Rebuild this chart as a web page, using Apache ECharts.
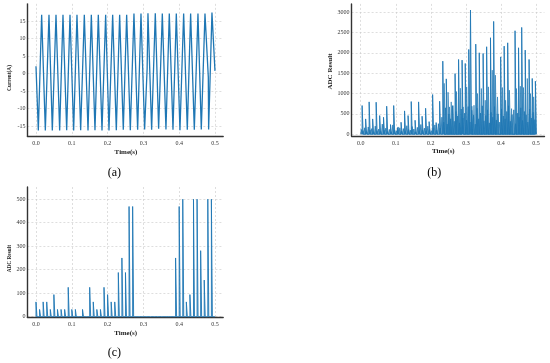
<!DOCTYPE html>
<html><head><meta charset="utf-8">
<script src="https://cdn.jsdelivr.net/npm/echarts@6/dist/echarts.min.js"></script>
<style>html,body{margin:0;padding:0;background:#fff}#c{width:550px;height:363px}</style>
</head><body><div id="c"></div>
<script>
// ---- (a) current waveform ----
const aTime = [0, 0.0065, 0.0158, 0.0261, 0.0363, 0.0456, 0.0559, 0.0661, 0.0754, 0.0857, 0.0950, 0.1052, 0.1145, 0.1248, 0.1350, 0.1453, 0.1546, 0.1648, 0.1741, 0.1844, 0.1946, 0.2039, 0.2142, 0.2244, 0.2337, 0.2439, 0.2533, 0.2635, 0.2737, 0.2840, 0.2933, 0.3035, 0.3105, 0.3128, 0.3231, 0.3333, 0.3426, 0.3529, 0.3631, 0.3724, 0.3827, 0.3920, 0.4022, 0.4125, 0.4227, 0.4320, 0.4423, 0.4525, 0.4618, 0.4721, 0.4814, 0.4823, 0.4916, 0.5];
const aCurrent = [2.1, -16.3, 16.9, -16.3, 16.9, -16.3, 16.9, -16.3, 16.9, -16.2, 16.9, -16.3, 16.9, -16.2, 16.9, -16.3, 16.9, -16.2, 16.9, -16.3, 16.9, -16.3, 16.9, -16.2, 16.9, -16.1, 16.9, -16.2, 17.2, -16.1, 17.2, -16.0, 1.5, 17.3, -16.1, 17.3, -15.8, 17.2, -16.0, 17.2, -16.1, 17.2, -16.2, 17.2, -16.1, 17.2, -16.1, 17.2, -16.0, 17.2, -1.0, -16.0, 17.5, 0.8];

// ---- (b) ADC result, spikes ----
const bMajorTime = [0.004, 0.014, 0.024, 0.034, 0.044, 0.054, 0.065, 0.074, 0.085, 0.094, 0.105, 0.115, 0.125, 0.135, 0.144, 0.155, 0.165, 0.175, 0.185, 0.195, 0.205, 0.215, 0.225, 0.234, 0.244, 0.269, 0.279, 0.289, 0.298, 0.308, 0.313, 0.328, 0.338, 0.349, 0.359, 0.370, 0.379, 0.399, 0.409, 0.419, 0.440, 0.450, 0.459, 0.469, 0.480, 0.489, 0.498];
const bMajorValue = [705, 377, 795, 377, 787, 459, 418, 689, 238, 705, 156, 295, 574, 459, 803, 344, 795, 443, 639, 311, 975, 287, 811, 1795, 1360, 1490, 1836, 1820, 1738, 2082, 3050, 2213, 2000, 1984, 2148, 2369, 2770, 1900, 2164, 2245, 2541, 2123, 2623, 2066, 1836, 1370, 1303];
const bMidTime = [0.238, 0.249, 0.253, 0.258, 0.263, 0.273, 0.284, 0.292, 0.302, 0.317, 0.323, 0.333, 0.344, 0.355, 0.364, 0.375, 0.384, 0.390, 0.404, 0.413, 0.424, 0.430, 0.444, 0.455, 0.464, 0.475, 0.484, 0.493];
const bMidValue = [1250, 1033, 672, 795, 705, 1050, 1131, 672, 1164, 689, 713, 1000, 1123, 836, 1164, 1574, 1451, 917, 1148, 836, 1082, 630, 1123, 1180, 1148, 1369, 1000, 918];
const bLowTime = [0.0015, 0.0065, 0.0115, 0.0165, 0.0215, 0.0265, 0.0315, 0.0365, 0.0415, 0.0465,
  0.0515, 0.0565, 0.0615, 0.0665, 0.0715, 0.0765, 0.0815, 0.0865, 0.0915, 0.0965,
  0.1015, 0.1065, 0.1115, 0.1165, 0.1215, 0.1265, 0.1315, 0.1365, 0.1415, 0.1465,
  0.1515, 0.1565, 0.1615, 0.1665, 0.1715, 0.1765, 0.1815, 0.1865, 0.1915, 0.1965,
  0.2015, 0.2065, 0.2115, 0.2165, 0.2215, 0.2265, 0.2315, 0.2365, 0.2415, 0.2465,
  0.2515, 0.2565, 0.2615, 0.2665, 0.2715, 0.2765, 0.2815, 0.2865, 0.2915, 0.2965,
  0.3015, 0.3065, 0.3115, 0.3165, 0.3215, 0.3265, 0.3315, 0.3365, 0.3415, 0.3465,
  0.3515, 0.3565, 0.3615, 0.3665, 0.3715, 0.3765, 0.3815, 0.3865, 0.3915, 0.3965,
  0.4015, 0.4065, 0.4115, 0.4165, 0.4215, 0.4265, 0.4315, 0.4365, 0.4415, 0.4465,
  0.4515, 0.4565, 0.4615, 0.4665, 0.4715, 0.4765, 0.4815, 0.4865, 0.4915, 0.4965];
const bLowValue = [120, 90, 160, 70, 180, 110, 140, 60, 200, 90, 130, 80, 250, 100, 150, 70, 120, 60, 230, 110,
  90, 180, 160, 80, 140, 70, 210, 120, 100, 190, 130, 60, 170, 90, 240, 110, 150, 80, 200, 120,
  90, 160, 230, 100, 260, 150,
  420, 300, 650, 250, 500, 380, 700, 320, 560, 450, 280, 620, 400, 520, 350, 680, 300, 590, 470, 250,
  640, 380, 520, 700, 330, 460, 600, 280, 540, 420, 680, 350, 500, 300, 620, 450, 380, 560, 700, 320,
  480, 600, 260, 520, 420, 650, 340, 560, 480, 300, 620, 400, 540, 360];

// ---- (c) ADC result, sampled every 0.01 s ----
const cTime = [0.00, 0.01, 0.02, 0.03, 0.04, 0.05, 0.06, 0.07, 0.08, 0.09, 0.10, 0.11, 0.12, 0.13, 0.14, 0.15, 0.16, 0.17, 0.18, 0.19, 0.20, 0.21, 0.22, 0.23, 0.24, 0.25, 0.26, 0.27, 0.28, 0.29, 0.30, 0.31, 0.32, 0.33, 0.34, 0.35, 0.36, 0.37, 0.38, 0.39, 0.40, 0.41, 0.42, 0.43, 0.44, 0.45, 0.46, 0.47, 0.48, 0.49];
const cValue = [63, 31, 63, 63, 31, 94, 31, 31, 31, 125, 31, 31, 0, 31, 0, 125, 63, 31, 31, 125, 94, 63, 63, 188, 250, 188, 469, 469, 0, 0, 0, 0, 0, 0, 0, 0, 0, 0, 0, 250, 469, 500, 63, 94, 500, 500, 281, 156, 500, 500];

// ---- tick labels ----
const timeTicks = [0, 0.1, 0.2, 0.3, 0.4, 0.5];
const aTicks = [-15, -10, -5, 0, 5, 10, 15];
const bTicks = [0, 500, 1000, 1500, 2000, 2500, 3000];
const cTicks = [0, 100, 200, 300, 400, 500];

function pulses(times, vals, w, tEnd) {
  const out = [];
  for (let i = 0; i < times.length; i++) {
    const t = times[i], v = vals[i];
    out.push([t, 0], [t, v], [t + w, v], [t + w, 0]);
  }
  if (tEnd != null) out.push([tEnd, 0]);
  return out;
}

const SERIF = '"Liberation Serif", "Times New Roman", serif';
const tickLabel = { fontFamily: SERIF, fontSize: 6, color: '#333' };
const split = { show: true, lineStyle: { color: '#c8c8c8', width: 0.6, type: [2, 2] } };
const spine = { show: true, onZero: false, lineStyle: { color: '#333', width: 1.4 } };

function xAx(gi, min, max) {
  return { type: 'value', gridIndex: gi, min, max, axisLine: spine,
    axisTick: { show: false, customValues: timeTicks },
    axisLabel: Object.assign({ customValues: timeTicks, margin: 4, formatter: v => v.toFixed(1) }, tickLabel),
    splitLine: split };
}
function yAx(gi, min, max, ticks) {
  return { type: 'value', gridIndex: gi, min, max, axisLine: spine,
    axisTick: { show: false, customValues: ticks },
    axisLabel: Object.assign({ customValues: ticks, margin: 2, formatter: v => String(v) }, tickLabel),
    splitLine: split };
}
const lineBase = { type: 'line', symbol: 'none', animation: false, silent: true };
const BLUE = '#1f77b4';

const chart = echarts.init(document.getElementById('c'), null, { renderer: 'canvas' });
chart.setOption({
  backgroundColor: '#fff',
  animation: false,
  grid: [
    { left: 27.4, right: 326.8, top: 3.85, bottom: 227, containLabel: false, outerBoundsMode: 'none' },
    { left: 351.6, right: 5.5, top: 3.9, bottom: 227, containLabel: false, outerBoundsMode: 'none' },
    { left: 27.4, right: 326.8, top: 187, bottom: 45.7, containLabel: false, outerBoundsMode: 'none' }
  ],
  xAxis: [xAx(0, -0.024, 0.523), xAx(1, -0.026, 0.524), xAx(2, -0.024, 0.523)],
  yAxis: [yAx(0, -17.87, 20, aTicks), yAx(1, -42, 3200, bTicks), yAx(2, -2.5, 552, cTicks)],
  series: [
    Object.assign({}, lineBase, { xAxisIndex: 0, yAxisIndex: 0,
      data: aTime.map((t, i) => [t, aCurrent[i]]),
      lineStyle: { color: BLUE, width: 1.3 } }),
    Object.assign({}, lineBase, { xAxisIndex: 1, yAxisIndex: 1,
      data: [[0, 0]].concat(pulses(bLowTime, bLowValue, 0.0025, 0.5)),
      lineStyle: { color: BLUE, width: 0.8 }, areaStyle: { color: BLUE, opacity: 0.5 } }),
    Object.assign({}, lineBase, { xAxisIndex: 1, yAxisIndex: 1,
      data: pulses(bMidTime, bMidValue, 0.003),
      lineStyle: { color: BLUE, width: 0.8, opacity: 0.8 }, areaStyle: { color: BLUE, opacity: 0.4 } }),
    Object.assign({}, lineBase, { xAxisIndex: 1, yAxisIndex: 1,
      data: pulses(bMajorTime, bMajorValue, 0.003),
      lineStyle: { color: BLUE, width: 0.9 }, areaStyle: { color: BLUE, opacity: 0.45 } }),
    Object.assign({}, lineBase, { xAxisIndex: 2, yAxisIndex: 2,
      data: pulses(cTime, cValue, 0.0028, 0.5),
      lineStyle: { color: BLUE, width: 0.9 }, areaStyle: { color: BLUE, opacity: 0.45 } })
  ],
  graphic: [
    { type: 'text', x: 9.5, y: 78, rotation: Math.PI / 2, silent: true,
      style: { text: 'Current(A)', align: 'center', verticalAlign: 'middle', font: 'bold 5.3px ' + SERIF, fill: '#222' } },
    { type: 'text', x: 126, y: 151.7, silent: true,
      style: { text: 'Time(s)', align: 'center', verticalAlign: 'middle', font: 'bold 7px ' + SERIF, fill: '#222' } },
    { type: 'text', x: 114.3, y: 172.7, silent: true,
      style: { text: '(a)', align: 'center', verticalAlign: 'middle', font: '12px ' + SERIF, fill: '#000' } },
    { type: 'text', x: 330, y: 71.5, rotation: Math.PI / 2, silent: true,
      style: { text: 'ADC Result', align: 'center', verticalAlign: 'middle', font: 'bold 7px ' + SERIF, fill: '#222' } },
    { type: 'text', x: 443.3, y: 150.7, silent: true,
      style: { text: 'Time(s)', align: 'center', verticalAlign: 'middle', font: 'bold 7px ' + SERIF, fill: '#222' } },
    { type: 'text', x: 434.3, y: 172.7, silent: true,
      style: { text: '(b)', align: 'center', verticalAlign: 'middle', font: '12px ' + SERIF, fill: '#000' } },
    { type: 'text', x: 9.5, y: 258.7, rotation: Math.PI / 2, silent: true,
      style: { text: 'ADC Result', align: 'center', verticalAlign: 'middle', font: 'bold 5.3px ' + SERIF, fill: '#222' } },
    { type: 'text', x: 125.7, y: 332.7, silent: true,
      style: { text: 'Time(s)', align: 'center', verticalAlign: 'middle', font: 'bold 7px ' + SERIF, fill: '#222' } },
    { type: 'text', x: 114.3, y: 353.3, silent: true,
      style: { text: '(c)', align: 'center', verticalAlign: 'middle', font: '12px ' + SERIF, fill: '#000' } }
  ]
});
</script>
</body></html>
